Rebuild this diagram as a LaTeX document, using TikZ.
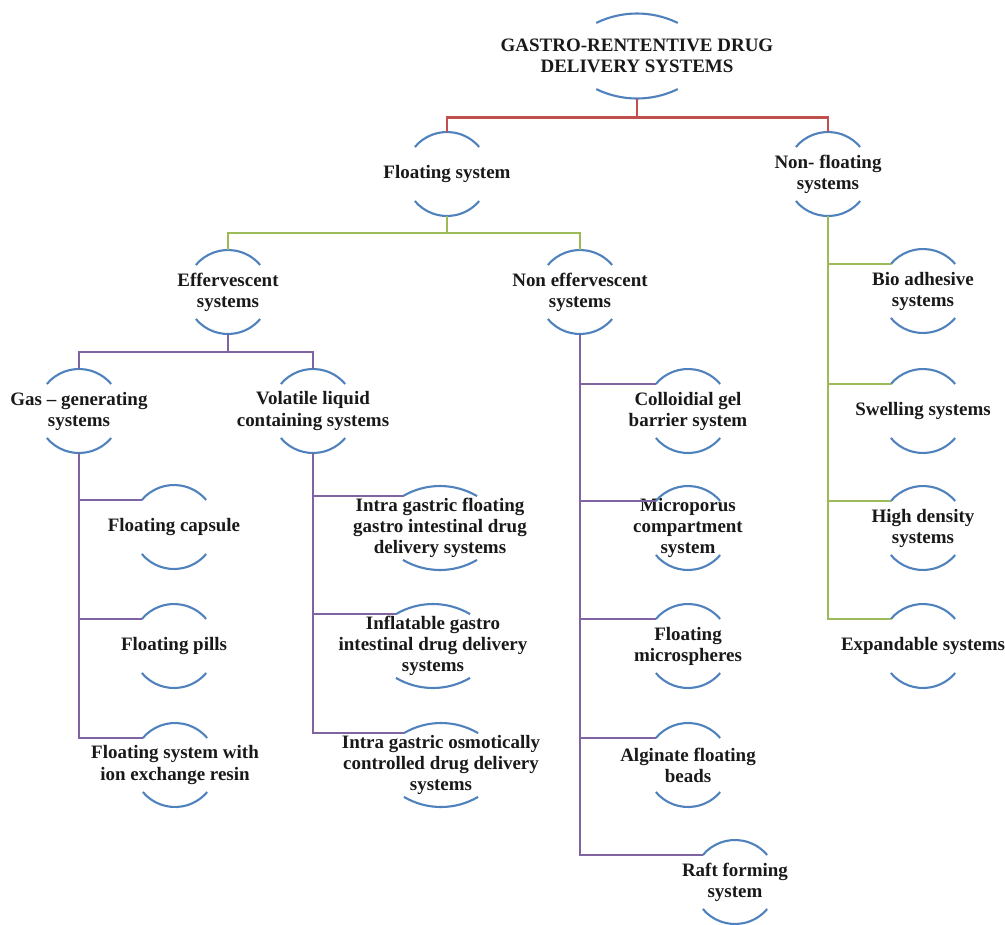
\documentclass[tikz,border=0pt]{standalone}
\usepackage{fontspec}
\setmainfont{Liberation Serif}
\usetikzlibrary{calc}

\definecolor{arcblue}{HTML}{4F81BD}
\definecolor{linkred}{HTML}{C0504D}
\definecolor{linkgreen}{HTML}{9BBB59}
\definecolor{linkpurple}{HTML}{8064A2}

% arcs above and below a label: name, radius, angle, centre offset
\newcommand\lens[4]{%
\coordinate (#1-l) at ($(#1.center)+(0,-#4)+({180-#3}:#2)$);
\coordinate (#1-t) at ($(#1.center)+(0,#2-#4)$);
\coordinate (#1-b) at ($(#1.center)+(0,#4-#2)$);
\draw[arcline] (#1-l) arc[start angle=180-#3,end angle=#3,radius=#2];
\draw[arcline] ($(#1.center)+(0,#4)+({180+#3}:#2)$)
  arc[start angle=180+#3,end angle=360-#3,radius=#2];
}

\begin{document}
\begin{tikzpicture}[
x=0.02cm,y=0.02cm,
every node/.style={font=\bfseries\fontsize{10.8}{12}\selectfont,
align=center,text=black!90,inner sep=0pt},
arcline/.style={draw=arcblue,line width=1.2pt},
red link/.style={draw=linkred,line width=1.3pt},
green link/.style={draw=linkgreen,line width=1.3pt},
purple link/.style={draw=linkpurple,line width=1.3pt}]

\useasboundingbox (0,0) rectangle (1005,-924);

\node (root) at (637,-56) {GASTRO-RENTENTIVE DRUG\\DELIVERY SYSTEMS};

\node (fs) at (447,-174) {Floating system};
\node (nf) at (828,-174) {Non- floating\\systems};

\node (ef) at (228,-292) {Effervescent\\systems};
\node (ne) at (580,-292) {Non effervescent\\systems};

\node (gas) at (79,-411) {Gas – generating\\systems};
\node (vol) at (313,-411) {Volatile liquid\\containing systems};

\node (fcap) at (174,-527) {Floating capsule};
\node (fpill) at (174,-646) {Floating pills};
\node (fion) at (175,-765) {Floating system with\\ion exchange resin};

\node (igf) at (440,-528) {Intra gastric floating\\gastro intestinal drug\\delivery systems};
\node (inf) at (433,-646) {Inflatable gastro\\intestinal drug delivery\\systems};
\node (igo) at (441,-765) {Intra gastric osmotically\\controlled drug delivery\\systems};

\node (col) at (688,-411) {Colloidial gel\\barrier system};
\node (micro) at (688,-528) {Microporus\\compartment\\system};
\node (fmic) at (688,-646) {Floating\\microspheres};
\node (alg) at (688,-765) {Alginate floating\\beads};
\node (raft) at (735,-882) {Raft forming\\system};

\node (bio) at (923,-291) {Bio adhesive\\systems};
\node (swell) at (923,-411) {Swelling systems};
\node (hd) at (923,-528) {High density\\systems};
\node (exp) at (923,-646) {Expandable systems};

\lens{root}{93}{64}{50.5}
\foreach \n in {fs,nf,ef,ne,gas,vol,fcap,fpill,fion,col,micro,fmic,alg,raft,bio,swell,hd,exp}
  {\lens{\n}{42}{40}{0}}
\foreach \n in {igf,inf,igo}
  {\lens{\n}{73}{59.5}{31}}

% first level
\coordinate (rj) at ($(root-b)+(0,-19)$);
\draw[red link] (root-b) -- (rj);
\draw[red link] (fs-t) |- (rj) -| (nf-t);

% floating / non floating
\coordinate (fj) at ($(fs-b)+(0,-17)$);
\draw[green link] (fs-b) -- (fj);
\draw[green link] (ef-t) |- (fj) -| (ne-t);
\draw[green link] (nf-b) |- (exp-l);
\foreach \n in {bio,swell,hd}
  \draw[green link] (nf-b |- \n-l) -- (\n-l);

% effervescent
\coordinate (ej) at ($(ef-b)+(0,-18)$);
\draw[purple link] (ef-b) -- (ej);
\draw[purple link] (gas-t) |- (ej) -| (vol-t);

\draw[purple link] (gas-b) |- (fion-l);
\foreach \n in {fcap,fpill}
  \draw[purple link] (gas-b |- \n-l) -- (\n-l);

\draw[purple link] (vol-b) |- (igo-l);
\foreach \n in {igf,inf}
  \draw[purple link] (vol-b |- \n-l) -- (\n-l);

% non effervescent
\draw[purple link] (ne-b) |- (raft-l);
\foreach \n in {col,micro,fmic,alg}
  \draw[purple link] (ne-b |- \n-l) -- (\n-l);

\end{tikzpicture}
\end{document}
